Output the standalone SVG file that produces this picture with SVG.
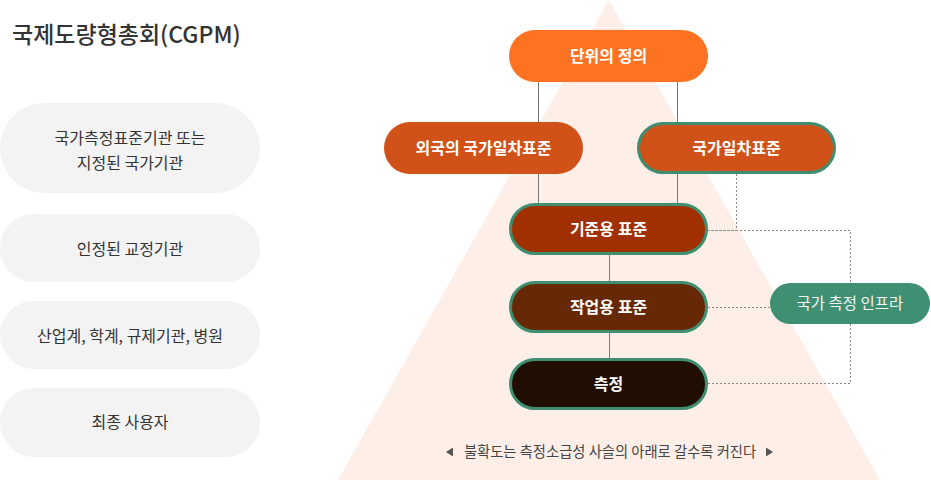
<svg xmlns="http://www.w3.org/2000/svg" width="931" height="480" viewBox="0 0 931 480">
<style>
text{font-family:"Noto Sans CJK KR","Noto Sans",sans-serif;text-anchor:middle}
.title{font-size:23px;font-weight:500;fill:#333;text-anchor:start}
.lbox{fill:#f3f3f3}
.ltxt{font-size:16px;fill:#333}
.nt{font-size:16px;font-weight:700;fill:#fff}
.gs{stroke:#3e8e6f;stroke-width:3}
.solid{stroke:#7a7a7a;stroke-width:1;fill:none}
.dot{stroke:#8a8a8a;stroke-width:1;stroke-dasharray:2 2;fill:none}
.note{font-size:14.3px;fill:#444}
</style>
<rect width="931" height="480" fill="#fff"/>
<polygon points="609,0 338,480 880,480" fill="#fdefe8"/>
<text class="title" x="12" y="43">국제도량형총회(CGPM)</text>
<g id="left1"><rect class="lbox" x="0" y="103" width="260" height="90" rx="45"/><text class="ltxt" x="130" y="144">국가측정표준기관 또는</text><text class="ltxt" x="130" y="169">지정된 국가기관</text></g>
<g id="left2"><rect class="lbox" x="0" y="214" width="260" height="68" rx="34"/><text class="ltxt" x="130" y="255">인정된 교정기관</text></g>
<g id="left3"><rect class="lbox" x="0" y="301" width="260" height="68" rx="34"/><text class="ltxt" x="130" y="342">산업계, 학계, 규제기관, 병원</text></g>
<g id="left4"><rect class="lbox" x="0" y="388" width="260" height="69" rx="34"/><text class="ltxt" x="130" y="428">최종 사용자</text></g>
<g id="connectors">
<line class="solid" x1="538.5" y1="82" x2="538.5" y2="122"/>
<line class="solid" x1="677.5" y1="82" x2="677.5" y2="122"/>
<line class="solid" x1="538.5" y1="174" x2="538.5" y2="203"/>
<line class="solid" x1="677.5" y1="174" x2="677.5" y2="203"/>
<line class="solid" x1="609.5" y1="254" x2="609.5" y2="281"/>
<line class="solid" x1="609.5" y1="333" x2="609.5" y2="358"/>
<polyline class="dot" points="736.5,174 736.5,230.5 708,230.5"/>
<polyline class="dot" points="708,230.5 850.5,230.5 850.5,283"/>
<line class="dot" x1="708" y1="307.5" x2="770" y2="307.5"/>
<polyline class="dot" points="850.5,324 850.5,383.5 708,383.5"/>
</g>
<g id="n1"><rect x="509" y="30" width="199" height="52" rx="26" fill="#fd7322"/><text class="nt" x="608.5" y="61.5">단위의 정의</text></g>
<g id="n2"><rect x="384" y="122" width="199" height="52" rx="26" fill="#d15219"/><text class="nt" x="483.5" y="153.5">외국의 국가일차표준</text></g>
<g id="n3"><rect class="gs" x="638.5" y="123.5" width="196" height="49" rx="24.5" fill="#d15219"/><text class="nt" x="736.5" y="153.5">국가일차표준</text></g>
<g id="n4"><rect class="gs" x="510.5" y="204.5" width="196" height="49" rx="24.5" fill="#a03000"/><text class="nt" x="608.5" y="234.5">기준용 표준</text></g>
<g id="n5"><rect class="gs" x="510.5" y="282.5" width="196" height="49" rx="24.5" fill="#672806"/><text class="nt" x="608.5" y="312.5">작업용 표준</text></g>
<g id="n6"><rect class="gs" x="510.5" y="359.5" width="196" height="49" rx="24.5" fill="#200e02"/><text class="nt" x="608.5" y="389.5">측정</text></g>
<g id="n7"><rect x="770" y="283" width="160" height="41" rx="20.5" fill="#3f8f72"/><text x="850" y="309" style="font-size:15.5px;fill:#f4f4f4">국가 측정 인프라</text></g>
<g id="note">
<polygon points="446,452 453,447.5 453,456.5" fill="#555"/>
<text class="note" x="610" y="457">불확도는 측정소급성 사슬의 아래로 갈수록 커진다</text>
<polygon points="773,452 766,447.5 766,456.5" fill="#555"/>
</g>
</svg>
